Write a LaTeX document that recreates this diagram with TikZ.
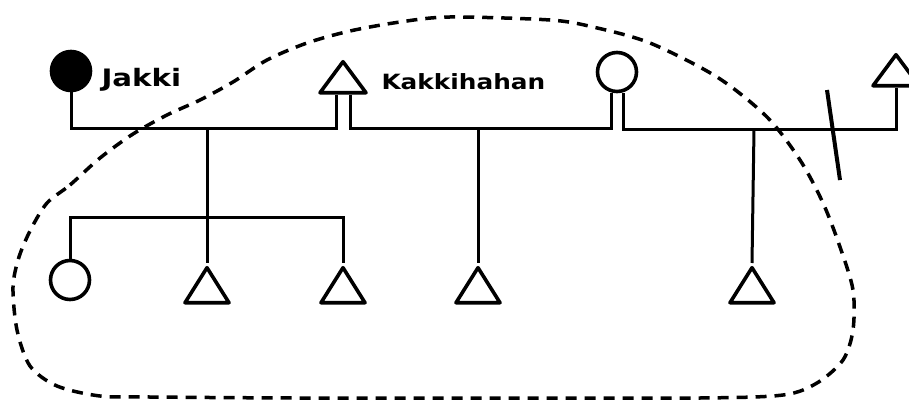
\documentclass[tikz,border=0pt]{standalone}
\usepackage{fontspec}
\usepackage{graphicx}
\newfontfamily\handfont{DejaVu Sans}
\usetikzlibrary{shapes.geometric}
\begin{document}
\begin{tikzpicture}[x=1pt,y=-1pt,
  line width=3pt,
  tri/.style={draw, isosceles triangle, shape border rotate=90, isosceles triangle stretches,
    minimum width=44pt, minimum height=35pt, inner sep=0pt, line width=3.6pt, line join=round},
  toptri/.style={tri, minimum width=46pt, minimum height=31pt},
  fem/.style={draw, circle, minimum size=39pt, inner sep=0pt, line width=3.6pt},
  dead/.style={fem, fill=black},
  lbl/.style={anchor=base west, inner sep=0pt, font=\handfont\bfseries},
  loop/.style={dash pattern=on 11pt off 8pt, line width=3.5pt}]
\useasboundingbox (0,0) rectangle (909,401);
% first generation
\node[dead] (jakki) at (71,71) {};
\node[lbl] (jt) at (100,87) {\fontsize{24}{24}\selectfont\scalebox{1.22}[1]{Jakki}};
\node[toptri, anchor=apex] (kak) at (343,57) {};
\node[lbl] (kt) at (380,90) {\fontsize{21}{21}\selectfont\scalebox{1.18}[1]{Kakkihahan}};
\node[fem] (wife) at (617,72) {};
\node[toptri, anchor=apex] (rt) at (896,50) {};
% children
\node[fem] (c1) at (70,280) {};
\node[tri, anchor=apex] (c2) at (207,263) {};
\node[tri, anchor=apex] (c3) at (343,263) {};
\node[tri, anchor=apex] (c4) at (478,263) {};
\node[tri, anchor=apex] (c5) at (752,263) {};
% marriage lines
\coordinate (d1) at (207,128);
\coordinate (d2) at (478,128);
\coordinate (d3) at (754,129);
\coordinate (sib) at (207,217);
\draw (jakki.south) |- ([xshift=-7pt]kak.lower side |- d1) -- ([xshift=-7pt]kak.lower side);
\draw ([xshift=7pt]kak.lower side) -- ([xshift=7pt]kak.lower side |- d2) -- ([xshift=-6pt]wife.south |- d2) -- ([xshift=-6pt]wife.south);
\draw ([xshift=6pt]wife.south) -- ([xshift=6pt]wife.south |- d3) -| (rt.lower side);
% divorce mark
\draw[line width=4pt] (827,90) -- (840,180);
% descent lines
\draw (d1) -- (c2.apex);
\draw (c1.north) |- (sib) -| (c3.apex);
\draw (d2) -- (c4.apex);
\draw (d3) -- (c5.apex);
% dashed boundary
\draw[loop] plot[smooth cycle, tension=0.5] coordinates {
 (47,203) (70,185) (100,158) (133,134) (167,115) (200,100) (233,82) (267,60) (307,43)
 (350,31) (400,22) (450,17) (550,20)
 (593,27) (650,43) (717,77) (767,117) (800,160) (823,203) (840,247) (853,290)
 (853,330) (843,360) (817,383) (783,395) (700,398) (500,398) (300,398) (150,397)
 (100,396) (57,386) (30,366) (17,330) (13,287) (19,257) (31,229)};
\end{tikzpicture}
\end{document}
